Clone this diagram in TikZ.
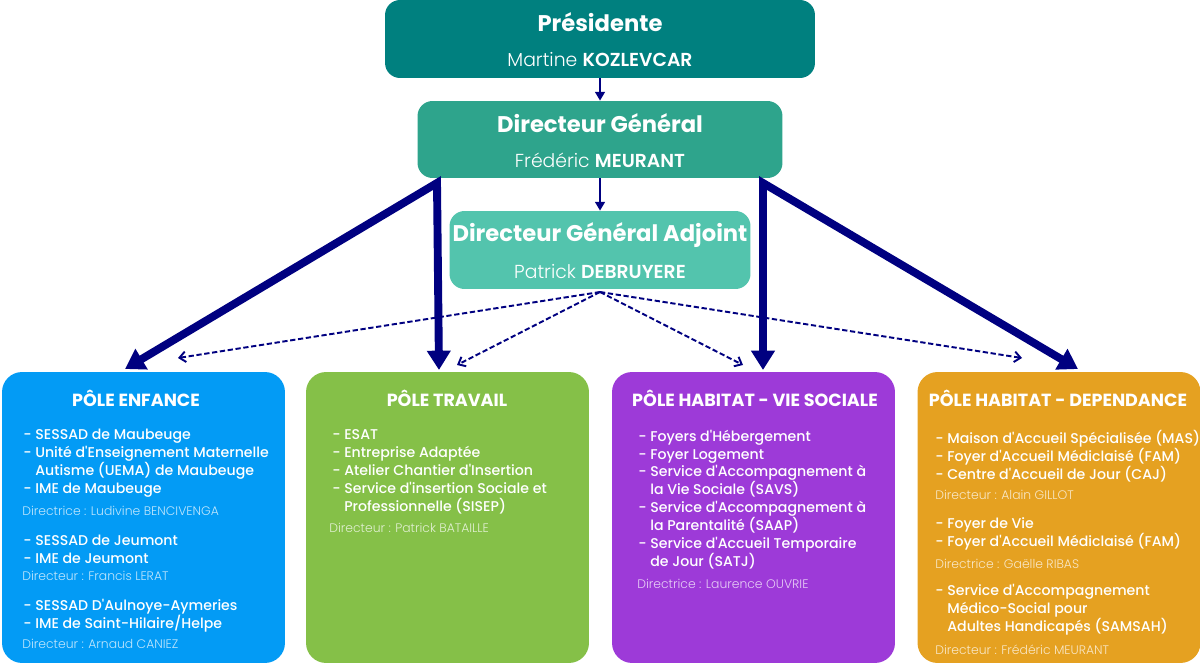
\documentclass[tikz,border=0pt]{standalone}
\usepackage{fontspec}
\setmainfont{Poppins}
\IfFontExistsTF{Poppins Medium}{\newfontfamily\medfont{Poppins Medium}}{\newfontfamily\medfont{Poppins}}
\IfFontExistsTF{Poppins Light}{\newfontfamily\lightfont{Poppins Light}}{\newfontfamily\lightfont{Poppins}}
\IfFontExistsTF{Poppins SemiBold}{\newfontfamily\semifont{Poppins SemiBold}}{\newcommand\semifont{\bfseries}}
\usetikzlibrary{arrows.meta}
\definecolor{presid}{RGB}{0,128,127}
\definecolor{dirgen}{RGB}{46,164,140}
\definecolor{dirgenadj}{RGB}{83,196,173}
\definecolor{enfance}{RGB}{3,155,245}
\definecolor{travail}{RGB}{133,192,72}
\definecolor{viesoc}{RGB}{157,58,216}
\definecolor{depend}{RGB}{229,161,33}
\definecolor{fleche}{RGB}{0,0,128}
\newcommand{\retrait}{\hphantom{- }}
\tikzset{
  chef/.style={rectangle, rounded corners=0.3cm, inner sep=0pt},
  pole/.style={rectangle, rounded corners=0.4cm, minimum width=5.66cm, minimum height=5.82cm, inner sep=0pt},
  titre/.style={text=white, inner sep=0pt, font=\bfseries\fontsize{12.9}{15}\selectfont},
  nom/.style={text=white, inner sep=0pt, font=\lightfont\fontsize{10.7}{13}\selectfont},
  entete/.style={text=white, inner sep=0pt, font=\bfseries\fontsize{10}{12}\selectfont},
  liste/.style={text=white, anchor=west, align=left, inner sep=0pt, font=\medfont\fontsize{8.05}{10.2}\selectfont},
  dirlig/.style={text=white, text opacity=0.75, anchor=west, inner sep=0pt, font=\lightfont\fontsize{7.05}{8.5}\selectfont},
  fin/.style={draw=fleche, line width=1.4pt, -{Triangle[length=5pt,width=5.5pt]}},
  gros/.style={draw=fleche, line width=4.5pt, {Triangle[length=11pt,width=13pt]}-{Triangle[length=11pt,width=13pt]}},
  pointille/.style={draw=fleche, line width=1.1pt, dash pattern=on 3pt off 1.5pt, -{Straight Barb[length=3.5pt,width=6pt]}}
}
\begin{document}
\begin{tikzpicture}[x=0.02cm, y=-0.02cm]
  \useasboundingbox (0,0) rectangle (1200,665);
  % direction
  \node[chef, fill=presid, minimum width=8.6cm, minimum height=1.56cm] (pres) at (600,39) {};
  \node[chef, fill=dirgen, minimum width=7.3cm, minimum height=1.54cm] (dg) at (600,139.5) {};
  \node[chef, fill=dirgenadj, minimum width=6.02cm, minimum height=1.56cm] (dga) at (600,250) {};
  \node[titre] (pres-t) at (600,22) {Présidente};
  \node[nom] (pres-n) at (600,60) {Martine {\semifont KOZLEVCAR}};
  \node[titre] (dg-t) at (600,123) {Directeur Général};
  \node[nom] (dg-n) at (600,160) {Frédéric {\semifont MEURANT}};
  \node[titre] (dga-t) at (600,235) {Directeur Général Adjoint};
  \node[nom] (dga-n) at (600,272) {Patrick {\semifont DEBRUYERE}};
  % poles
  \node[pole, fill=enfance] (enf) at (143.5,517.5) {};
  \node[pole, fill=travail] (trav) at (447.5,517.5) {};
  \node[pole, fill=viesoc] (vie) at (753.5,517.5) {};
  \node[pole, fill=depend] (dep) at (1059,517.5) {};
  \node[entete] (enf-t) at (136,398) {PÔLE ENFANCE};
  \node[entete] (trav-t) at (447,398) {PÔLE TRAVAIL};
  \node[entete] (vie-t) at (755,398) {PÔLE HABITAT - VIE SOCIALE};
  \node[entete] (dep-t) at (1058,398) {PÔLE HABITAT - DEPENDANCE};
  % pole enfance
  \node[liste] (enf-a) at (23,463) {- SESSAD de Maubeuge\\- Unité d'Enseignement Maternelle\\\retrait Autisme (UEMA) de Maubeuge\\- IME de Maubeuge};
  \node[dirlig] (enf-da) at (22,510.5) {Directrice : Ludivine BENCIVENGA};
  \node[liste] (enf-b) at (23,549) {- SESSAD de Jeumont\\- IME de Jeumont};
  \node[dirlig] (enf-db) at (22,576) {Directeur : Francis LERAT};
  \node[liste] (enf-c) at (23,615.5) {- SESSAD D'Aulnoye-Aymeries\\- IME de Saint-Hilaire/Helpe};
  \node[dirlig] (enf-dc) at (22,644) {Directeur : Arnaud CANIEZ};
  % pole travail
  \node[liste] (trav-a) at (332,472) {- ESAT\\- Entreprise Adaptée\\- Atelier Chantier d'Insertion\\- Service d'insertion Sociale et\\\retrait Professionnelle (SISEP)};
  \node[dirlig] (trav-da) at (329,527.5) {Directeur : Patrick BATAILLE};
  % pole habitat vie sociale
  \node[liste] (vie-a) at (638,499.5) {- Foyers d'Hébergement\\- Foyer Logement\\- Service d'Accompagnement à\\\retrait la Vie Sociale (SAVS)\\- Service d'Accompagnement à\\\retrait la Parentalité (SAAP)\\- Service d'Accueil Temporaire\\\retrait de Jour (SATJ)};
  \node[dirlig] (vie-da) at (637,584) {Directrice : Laurence OUVRIE};
  % pole habitat dependance
  \node[liste] (dep-a) at (935,456) {- Maison d'Accueil Spécialisée (MAS)\\- Foyer d'Accueil Médiclaisé (FAM)\\- Centre d'Accueil de Jour (CAJ)};
  \node[dirlig] (dep-da) at (935,495) {Directeur : Alain GILLOT};
  \node[liste] (dep-b) at (935,534) {- Foyer de Vie\\- Foyer d'Accueil Médiclaisé (FAM)};
  \node[dirlig] (dep-db) at (935,564) {Directrice : Gaëlle RIBAS};
  \node[liste] (dep-c) at (935,610) {- Service d'Accompagnement\\\retrait Médico-Social pour\\\retrait Adultes Handicapés (SAMSAH)};
  \node[dirlig] (dep-dc) at (935,650) {Directeur : Frédéric MEURANT};
  % liens
  \coordinate (dg-g) at (437,183);
  \coordinate (dg-d) at (763,183);
  \coordinate (enf-p) at (125,369);
  \coordinate (trav-p) at (439,370);
  \coordinate (vie-p) at (763,370);
  \coordinate (dep-p) at (1078,369);
  \coordinate (dga-s) at (600,292);
  \coordinate (enf-q) at (178,358);
  \coordinate (trav-q) at (457,365);
  \coordinate (vie-q) at (743,365);
  \coordinate (dep-q) at (1022,358);
  \draw[fin] (pres) -- (dg);
  \draw[fin] (dg) -- (dga);
  \draw[gros, miter limit=20] (enf-p) -- (dg-g) -- (trav-p);
  \draw[gros, miter limit=20] (vie-p) -- (dg-d) -- (dep-p);
  \draw[pointille] (dga-s) -- (enf-q);
  \draw[pointille] (dga-s) -- (trav-q);
  \draw[pointille] (dga-s) -- (vie-q);
  \draw[pointille] (dga-s) -- (dep-q);
\end{tikzpicture}
\end{document}
